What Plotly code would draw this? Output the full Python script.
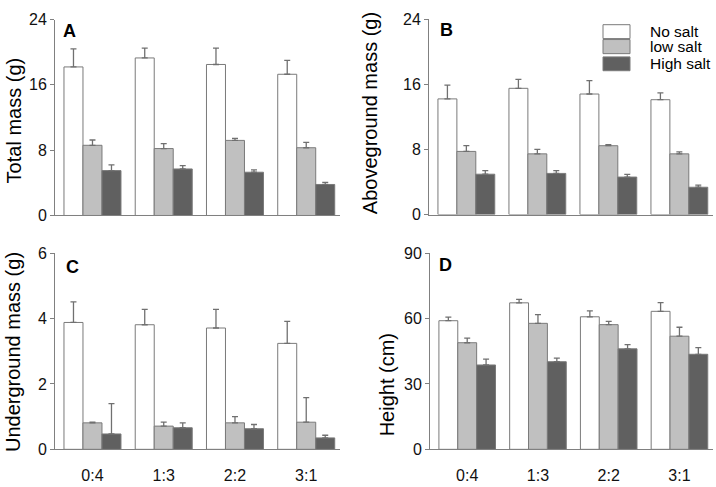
import plotly.graph_objects as go

W, H = 716, 487

categories = ["0:4", "1:3", "2:2", "3:1"]
series_names = ["No salt", "low salt", "High salt"]
series_colors = ["#ffffff", "#c0c0c0", "#606060"]

# Panel A: Total mass (g)
total_no = [18.2, 19.3, 18.5, 17.3]
total_no_err = [2.2, 1.2, 2.0, 1.7]
total_low = [8.6, 8.2, 9.2, 8.3]
total_low_err = [0.65, 0.6, 0.25, 0.65]
total_high = [5.5, 5.7, 5.3, 3.8]
total_high_err = [0.7, 0.4, 0.3, 0.25]

# Panel B: Aboveground mass (g)
above_no = [14.2, 15.5, 14.8, 14.1]
above_no_err = [1.7, 1.1, 1.65, 0.85]
above_low = [7.75, 7.45, 8.45, 7.45]
above_low_err = [0.7, 0.55, 0.12, 0.25]
above_high = [4.95, 5.05, 4.6, 3.35]
above_high_err = [0.45, 0.35, 0.32, 0.27]

# Panel C: Underground mass (g)
under_no = [3.88, 3.81, 3.71, 3.24]
under_no_err = [0.63, 0.47, 0.57, 0.67]
under_low = [0.81, 0.71, 0.81, 0.83]
under_low_err = [0.02, 0.12, 0.19, 0.75]
under_high = [0.47, 0.66, 0.63, 0.35]
under_high_err = [0.93, 0.15, 0.13, 0.08]

# Panel D: Height (cm)
height_no = [59.0, 67.2, 60.8, 63.3]
height_no_err = [1.6, 1.6, 2.7, 4.0]
height_low = [48.9, 57.8, 57.2, 51.9]
height_low_err = [2.1, 4.0, 1.5, 4.1]
height_high = [38.7, 40.2, 46.1, 43.6]
height_high_err = [2.7, 1.6, 1.9, 3.1]

y_ticks_A = [0, 8, 16, 24]
y_ticks_B = [0, 8, 16, 24]
y_ticks_C = [0, 2, 4, 6]
y_ticks_D = [0, 30, 60, 90]

FONT = "Liberation Sans, Arial, sans-serif"


def px(p):
    return p / W


def py(p):
    return 1 - p / H


panels = [
    ("x", "y", [total_no, total_low, total_high],
     [total_no_err, total_low_err, total_high_err], y_ticks_A,
     (55, 340), (12, 215), False),
    ("x2", "y2", [above_no, above_low, above_high],
     [above_no_err, above_low_err, above_high_err], y_ticks_B,
     (429, 713), (11.5, 214), False),
    ("x3", "y3", [under_no, under_low, under_high],
     [under_no_err, under_low_err, under_high_err], y_ticks_C,
     (55, 340), (254, 457.3), True),
    ("x4", "y4", [height_no, height_low, height_high],
     [height_no_err, height_low_err, height_high_err], y_ticks_D,
     (430, 713), (254, 457.3), True),
]

fig = go.Figure()
layout_axes = {}
for xa, ya, vals, errs, ticks, xd, yd, showx in panels:
    for name, color, v, e in zip(series_names, series_colors, vals, errs):
        fig.add_trace(go.Bar(
            x=categories, y=v, name=name, xaxis=xa, yaxis=ya,
            marker=dict(color=color, line=dict(color="#7a7a7a", width=1)),
            error_y=dict(type="data", array=e, arrayminus=[0] * len(e),
                         symmetric=False, color="#707070", thickness=1.3, width=3),
            showlegend=False,
        ))
    xkey = "xaxis" + xa[1:]
    ykey = "yaxis" + ya[1:]
    layout_axes[xkey] = dict(
        domain=[px(xd[0]), px(xd[1])], anchor=ya, range=[-0.526, 3.474],
        showline=True, linecolor="#808080", linewidth=1,
        ticks="outside" if showx else "", ticklen=11, tickcolor="rgba(0,0,0,0)",
        showticklabels=showx, tickfont=dict(family=FONT, size=16, color="#111"),
        showgrid=False, zeroline=False, fixedrange=True,
    )
    layout_axes[ykey] = dict(
        domain=[py(yd[1]), py(yd[0])], anchor=xa, range=[ticks[0], ticks[-1]],
        tickvals=ticks, showline=True, linecolor="#808080", linewidth=1,
        ticks="outside", ticklen=4, tickcolor="#808080",
        tickfont=dict(family=FONT, size=16, color="#111"),
        showgrid=False, zeroline=False, fixedrange=True,
    )

fig.update_layout(**layout_axes)

annotations = []
y_titles = [
    ("Total mass (g)", 13.5, 117),
    ("Aboveground mass (g)", 370, 109),
    ("Underground mass (g)", 12.5, 357),
    ("Height (cm)", 387, 391),
]
for text, cx, cy in y_titles:
    annotations.append(dict(
        text=text, x=px(cx), y=py(cy), xref="paper", yref="paper",
        xanchor="center", yanchor="middle", textangle=-90, showarrow=False,
        font=dict(family=FONT, size=20, color="#000"),
    ))
letters = [("A", 61, 24), ("B", 438, 23), ("C", 64, 268.5), ("D", 437, 266.5)]
for text, lx, ly in letters:
    annotations.append(dict(
        text="<b>%s</b>" % text, x=px(lx), y=py(ly), xref="paper", yref="paper",
        xanchor="left", yanchor="middle", showarrow=False,
        font=dict(family=FONT, size=18, color="#000"),
    ))

shapes = []
legend_rows = [(17.3, 31.7), (32.7, 47.3), (50.7, 65.0)]
for (y0, y1), name, color in zip(legend_rows, series_names, series_colors):
    shapes.append(dict(
        type="rect", xref="paper", yref="paper",
        x0=px(603), x1=px(630), y0=py(y1), y1=py(y0),
        fillcolor=color, line=dict(color="#7a7a7a", width=1),
    ))
    annotations.append(dict(
        text=name, x=px(648), y=py((y0 + y1) / 2), xref="paper", yref="paper",
        xanchor="left", yanchor="middle", showarrow=False,
        font=dict(family=FONT, size=15.5, color="#000"),
    ))

fig.update_layout(
    width=W, height=H, margin=dict(l=0, r=0, t=0, b=0),
    paper_bgcolor="white", plot_bgcolor="white",
    barmode="group", bargap=0.2, bargroupgap=0,
    annotations=annotations, shapes=shapes,
    showlegend=False,
)

fig.write_html(
    "out.html",
    config={"displayModeBar": False},
    post_script="document.body.style.margin='0';document.body.style.overflow='hidden';",
)
